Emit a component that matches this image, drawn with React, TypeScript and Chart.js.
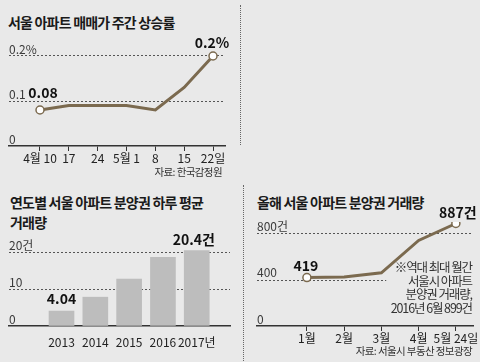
import React, { useEffect, useRef } from "react";
import { Chart, registerables } from "chart.js";

Chart.register(...registerables);

// ---- data ----
const weekLabels = ["4월 10", "17", "24", "5월 1", "8", "15", "22일"];
const weekRates = [0.08, 0.09, 0.09, 0.09, 0.08, 0.13, 0.2];
const rateTicks = [0, 0.1, 0.2];
const rateTickLabels = ["0", "0.1", "0.2%"];

const years = ["2013", "2014", "2015", "2016", "2017년"];
const dailyDeals = [4.04, 7.8, 12.7, 18.6, 20.4];
const dealTicks = [0, 10, 20];
const dealTickLabels = ["0", "10", "20건"];

const months = ["1월", "2월", "3월", "4월", "5월 24일"];
const monthDeals = [419, 425, 460, 740, 887];
const monthTicks = [0, 400, 800];
const monthTickLabels = ["0", "400", "800건"];

// ---- style ----
const BG = "#e9e9e9";
const LINE = "#7b6a4f";
const BAR = "#bdbdbd";
const AXIS = "#333333";
const GRID = "#555555";
const NARROW = "'Liberation Sans Narrow', 'Noto Sans CJK KR', sans-serif";
const KR = "'Noto Sans CJK KR', sans-serif";

const valueLabelPlugin = {
  id: "valueLabels",
  afterDatasetsDraw(chart: any, _args: any, opts: any) {
    const items = (opts && opts.items) || [];
    const meta = chart.getDatasetMeta(0);
    const ctx = chart.ctx;
    ctx.save();
    ctx.font = opts.font;
    ctx.fillStyle = opts.color || "#111";
    ctx.textAlign = "center";
    ctx.textBaseline = "alphabetic";
    items.forEach((it: any) => {
      const el = meta.data[it.index];
      if (!el) return;
      ctx.fillText(it.text, el.x + (it.dx || 0), el.y + it.dy);
    });
    ctx.restore();
  },
};

const partialGridPlugin = {
  id: "partialGrid",
  beforeDatasetsDraw(chart: any, _args: any, opts: any) {
    if (!opts || opts.value == null) return;
    const ctx = chart.ctx;
    const y = Math.round(chart.scales.y.getPixelForValue(opts.value)) + 0.5;
    const x1 = chart.chartArea.left;
    const x2 = chart.scales.x.getPixelForValue(opts.untilX);
    ctx.save();
    ctx.setLineDash([2, 2]);
    ctx.strokeStyle = GRID;
    ctx.lineWidth = 1;
    ctx.beginPath();
    ctx.moveTo(x1, y);
    ctx.lineTo(x2, y);
    ctx.stroke();
    ctx.restore();
  },
};

function yScale(min: number, max: number, ticks: number[], labels: string[], hideValues: number[]) {
  return {
    type: "linear",
    min,
    max,
    afterBuildTicks: (s: any) => {
      s.ticks = ticks.map((v) => ({ value: v }));
    },
    afterFit: (s: any) => {
      s.width = 0;
    },
    ticks: {
      mirror: true,
      padding: 0,
      labelOffset: -7,
      color: "#3a3a3a",
      font: { family: NARROW, size: 12 },
      callback: (v: any) => {
        const i = ticks.indexOf(v);
        return i >= 0 ? labels[i] : "";
      },
    },
    grid: {
      drawTicks: false,
      color: (c: any) => (c.tick && hideValues.includes(c.tick.value) ? "rgba(0,0,0,0)" : GRID),
      lineWidth: 1,
    },
    border: { display: false, dash: [2, 2] },
  };
}

function xIndexScale(min: number, max: number, labels: string[], tickMarks: boolean, padding: number) {
  return {
    type: "linear",
    min,
    max,
    afterBuildTicks: (s: any) => {
      s.ticks = labels.map((_, i) => ({ value: i }));
    },
    afterFit: (s: any) => {
      s.height = 24;
    },
    ticks: {
      maxRotation: 0,
      autoSkip: false,
      padding,
      color: "#222",
      font: { family: NARROW, size: 12 },
      callback: (v: any) => labels[v] ?? "",
    },
    grid: {
      display: tickMarks,
      drawOnChartArea: false,
      drawTicks: true,
      tickLength: 5,
      color: AXIS,
      lineWidth: 1,
    },
    border: { display: true, color: AXIS, width: 1.5 },
  };
}

function useChart(ref: React.RefObject<HTMLCanvasElement>, makeConfig: () => any) {
  useEffect(() => {
    if (!ref.current) return;
    const chart = new Chart(ref.current, makeConfig());
    return () => chart.destroy();
  }, []);
}

function WeeklyChart() {
  const ref = useRef<HTMLCanvasElement>(null);
  useChart(ref, () => ({
    type: "line",
    data: {
      datasets: [
        {
          data: weekRates.map((v, i) => ({ x: i, y: v })),
          borderColor: LINE,
          borderWidth: 3,
          tension: 0,
          pointRadius: (c: any) => (c.dataIndex === 0 || c.dataIndex === weekRates.length - 1 ? 4 : 0),
          pointBackgroundColor: "#ffffff",
          pointBorderColor: LINE,
          pointBorderWidth: 1.5,
        },
      ],
    },
    options: {
      responsive: false,
      animation: false,
      layout: { padding: { top: 47, left: 9, right: 15, bottom: 0 } },
      scales: {
        x: xIndexScale(-1.075, 6.416, weekLabels, true, 0),
        y: yScale(0, 0.22, rateTicks, rateTickLabels, [0]),
      },
      plugins: {
        legend: { display: false },
        tooltip: { enabled: false },
        valueLabels: {
          font: `bold 14px ${NARROW}`,
          color: "#111",
          items: [
            { index: 0, text: weekRates[0].toFixed(2), dx: 3, dy: -12 },
            { index: weekRates.length - 1, text: `${weekRates[weekRates.length - 1]}%`, dx: -1, dy: -8 },
          ],
        },
      },
    },
    plugins: [valueLabelPlugin],
  }));
  return <canvas ref={ref} width={240} height={170} style={{ position: "absolute", left: 0, top: 0 }} />;
}

function YearlyChart() {
  const ref = useRef<HTMLCanvasElement>(null);
  useChart(ref, () => ({
    type: "bar",
    data: {
      datasets: [
        {
          data: dailyDeals.map((v, i) => ({ x: i, y: v })),
          backgroundColor: BAR,
          barThickness: 25,
        },
      ],
    },
    options: {
      responsive: false,
      animation: false,
      layout: { padding: { top: 61, left: 9, right: 10, bottom: 0 } },
      scales: {
        x: xIndexScale(-0.9, 4.33, years, false, 4),
        y: yScale(0, 23, dealTicks, dealTickLabels, [0]),
      },
      plugins: {
        legend: { display: false },
        tooltip: { enabled: false },
        valueLabels: {
          font: `bold 14px ${NARROW}`,
          color: "#111",
          items: [
            { index: 0, text: dailyDeals[0].toFixed(2), dx: 0, dy: -7 },
            { index: dailyDeals.length - 1, text: `${dailyDeals[dailyDeals.length - 1]}건`, dx: -3, dy: -6 },
          ],
        },
      },
    },
    plugins: [valueLabelPlugin],
  }));
  return <canvas ref={ref} width={240} height={170} style={{ position: "absolute", left: 0, top: 180 }} />;
}

function MonthlyChart() {
  const ref = useRef<HTMLCanvasElement>(null);
  useChart(ref, () => ({
    type: "line",
    data: {
      datasets: [
        {
          data: monthDeals.map((v, i) => ({ x: i, y: v })),
          borderColor: LINE,
          borderWidth: 3,
          tension: 0,
          pointRadius: (c: any) => (c.dataIndex === 0 || c.dataIndex === monthDeals.length - 1 ? 4 : 0),
          pointBackgroundColor: "#ffffff",
          pointBorderColor: LINE,
          pointBorderWidth: 1.5,
        },
      ],
    },
    options: {
      responsive: false,
      animation: false,
      layout: { padding: { top: 42, left: 17, right: 7, bottom: 0 } },
      scales: {
        x: xIndexScale(-1.34, 4.46, months, true, 0),
        y: yScale(0, 900, monthTicks, monthTickLabels, [0, 400]),
      },
      plugins: {
        legend: { display: false },
        tooltip: { enabled: false },
        partialGrid: { value: 400, untilX: 2.13 },
        valueLabels: {
          font: `bold 14px ${NARROW}`,
          color: "#111",
          items: [
            { index: 0, text: String(monthDeals[0]), dx: -1, dy: -7 },
            { index: monthDeals.length - 1, text: `${monthDeals[monthDeals.length - 1]}건`, dx: 2, dy: -6 },
          ],
        },
      },
    },
    plugins: [valueLabelPlugin, partialGridPlugin],
  }));
  return <canvas ref={ref} width={240} height={170} style={{ position: "absolute", left: 240, top: 180 }} />;
}

const titleStyle: React.CSSProperties = {
  position: "absolute",
  fontFamily: KR,
  fontWeight: 700,
  fontSize: 14,
  letterSpacing: -0.8,
  color: "#1a1a1a",
  lineHeight: "20px",
  whiteSpace: "nowrap",
};

const sourceStyle: React.CSSProperties = {
  position: "absolute",
  fontFamily: KR,
  fontSize: 10.5,
  letterSpacing: -0.6,
  color: "#333",
  whiteSpace: "nowrap",
  textAlign: "right",
  lineHeight: "14px",
};

export default function App() {
  return (
    <div
      style={{
        position: "absolute",
        left: 0,
        top: 0,
        width: 480,
        height: 362,
        background: BG,
        overflow: "hidden",
      }}
    >
      <div style={{ ...titleStyle, left: 8, top: 12 }}>서울 아파트 매매가 주간 상승률</div>
      <div style={{ ...titleStyle, left: 10, top: 192 }}>
        연도별 서울 아파트 분양권 하루 평균
        <br />
        거래량
      </div>
      <div style={{ ...titleStyle, left: 257, top: 192 }}>올해 서울 아파트 분양권 거래량</div>

      <div style={{ position: "absolute", left: 240, top: 5, height: 140, borderLeft: "1px dotted #666" }} />
      <div style={{ position: "absolute", left: 243, top: 185, height: 180, borderLeft: "1px dotted #666" }} />

      <WeeklyChart />
      <YearlyChart />
      <MonthlyChart />

      <div style={{ ...sourceStyle, right: 258, top: 165 }}>자료: 한국감정원</div>
      <div style={{ ...sourceStyle, right: 8, top: 344 }}>자료: 서울시 부동산 정보광장</div>

      <div
        style={{
          position: "absolute",
          right: 8,
          top: 260,
          fontFamily: KR,
          fontSize: 12.5,
          letterSpacing: -1.1,
          lineHeight: "13.5px",
          color: "#333",
          textAlign: "right",
          whiteSpace: "nowrap",
        }}
      >
        ※역대 최대 월간
        <br />
        서울시 아파트
        <br />
        분양권 거래량,
        <br />
        2016년 6월 899건
      </div>
    </div>
  );
}
